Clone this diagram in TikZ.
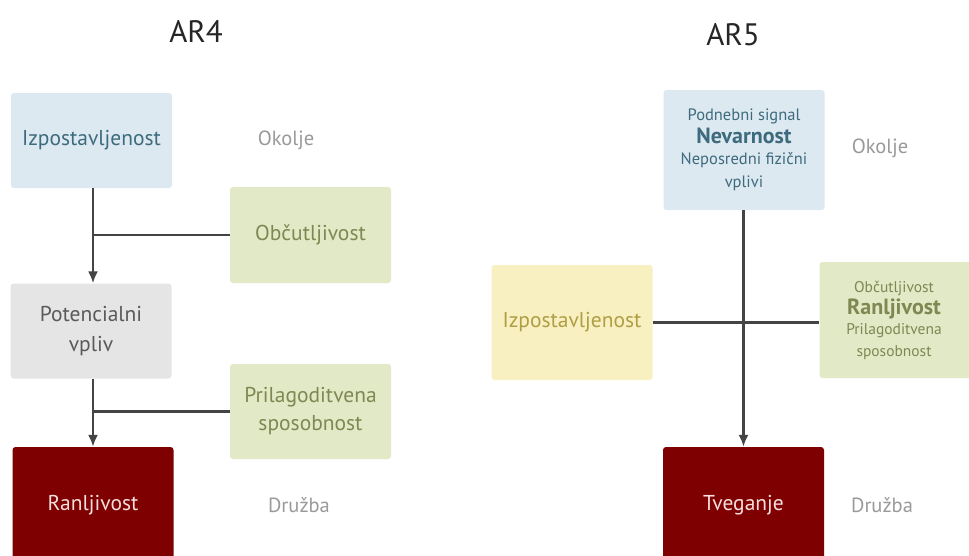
\documentclass[tikz,border=0pt]{standalone}
\usepackage{fontspec}
\setmainfont{PT Sans}
\usetikzlibrary{arrows.meta}
\definecolor{bblue}{HTML}{DDE9F1}
\definecolor{tblue}{HTML}{3D6B7D}
\definecolor{bgreen}{HTML}{E2E9C6}
\definecolor{tgreen}{HTML}{7F8752}
\definecolor{bgray}{HTML}{E5E5E6}
\definecolor{tgray}{HTML}{5A5A5A}
\definecolor{bred}{HTML}{7F0000}
\definecolor{tred}{HTML}{F5DEDE}
\definecolor{byellow}{HTML}{F8F0C1}
\definecolor{tyellow}{HTML}{B09E45}
\definecolor{lgray}{HTML}{9A9A9A}
\definecolor{lline}{HTML}{444444}
\tikzset{
  box/.style={rectangle, rounded corners=3pt, minimum width=161pt, inner sep=2pt, align=center, font=\fontsize{21.5}{30}\selectfont},
  lbl/.style={text=lgray, font=\fontsize{20.5}{25}\selectfont},
  ttl/.style={font=\fontsize{31}{34}\selectfont, text=black!85},
  conn/.style={draw=lline, line width=2.2pt},
  arr/.style={conn, -{Latex[length=12pt,width=10pt]}},
}
\begin{document}
\begin{tikzpicture}[x=1pt,y=-1pt]
\useasboundingbox (0,0) rectangle (969,555);
\clip (0,0) rectangle (969,555);
\fill[white] (0,0) rectangle (969,555);
% ---- AR4
\node[ttl] (t4) at (196,31) {AR4};
\node[box, fill=bblue, text=tblue, minimum height=95pt] (izp) at (91.5,140.5) {Izpostavljenost};
\node[lbl] (ok1) at (286,140) {Okolje};
\node[box, fill=bgreen, text=tgreen, minimum height=96pt] (obc) at (310.5,235) {Občutljivost};
\node[box, fill=bgray, text=tgray, minimum height=95pt] (pot) at (91,331) {Potencialni\\vpliv};
\node[box, fill=bgreen, text=tgreen, minimum height=95pt, font=\fontsize{21.5}{28}\selectfont] (pri) at (310.5,411.5) {Prilagoditvena\\sposobnost};
\node[box, fill=bred, text=tred, minimum height=116pt] (ran) at (93,505) {Ranljivost};
\node[lbl] (dr1) at (299,505) {Družba};
\coordinate (axis) at ([xshift=1.5pt]izp.south);
\draw[arr] (axis) -- (axis |- pot.north);
\draw[conn] (obc.west) -- (obc.west -| axis);
\draw[arr] (axis |- pot.south) -- (axis |- ran.north);
\draw[conn] (pri.west) -- (pri.west -| axis);
% ---- AR5
\node[ttl] (t5) at (733,35) {AR5};
\node[box, fill=bblue, text=tblue, minimum height=120pt, font=\fontsize{16.5}{23}\selectfont] (haz) at (744,150)
  {Podnebni signal\\{\fontsize{22}{24}\selectfont\bfseries Nevarnost}\\[-2pt]Neposredni fizični\\vplivi};
\node[lbl] (ok2) at (880,148) {Okolje};
\node[box, fill=byellow, text=tyellow, minimum height=115pt] (izp2) at (572,322.5) {Izpostavljenost};
\node[box, fill=bgreen, text=tgreen, minimum height=116pt, font=\fontsize{15.5}{22}\selectfont] (vul) at (900,320)
  {\hspace*{-12pt}Občutljivost\\{\fontsize{22}{24}\selectfont\bfseries\hspace*{-12pt}Ranljivost}\\[-2pt]\hspace*{-12pt}Prilagoditvena\\\hspace*{-12pt}sposobnost};
\node[box, fill=bred, text=tred, minimum height=116pt] (tve) at (743.5,505) {Tveganje};
\node[lbl] (dr2) at (882,505) {Družba};
\draw[arr] (haz.south -| tve.north) -- (tve.north);
\draw[conn] (izp2.east) -- (izp2.east -| vul.west);
\end{tikzpicture}
\end{document}
